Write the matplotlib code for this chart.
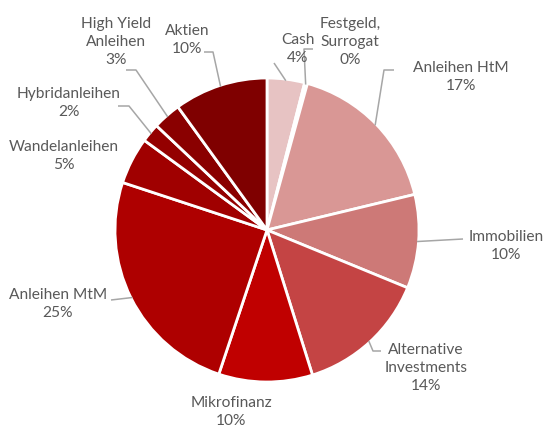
import numpy as np
import matplotlib
matplotlib.use("Agg")
import matplotlib.pyplot as plt

# ---- data ----
categories = ["Cash", "Festgeld,\nSurrogat", "Anleihen HtM", "Immobilien",
              "Alternative\nInvestments", "Mikrofinanz", "Anleihen MtM",
              "Wandelanleihen", "Hybridanleihen", "High Yield\nAnleihen", "Aktien"]
values = [4, 0.3, 17, 10, 14, 10, 25, 5, 2, 3, 10]
pct_labels = ["4%", "0%", "17%", "10%", "14%", "10%", "25%", "5%", "2%", "3%", "10%"]

colors = ["#E7C3C3", "#DFAEAE", "#D99795", "#CD7977", "#C44444", "#C00000",
          "#AE0000", "#A00000", "#940000", "#8A0000", "#7F0000"]

# ---- layout (pixel coords, y from top) ----
W, H = 544, 431
cx, cy, R = 267, 231, 152
label_xy = [(298, 49), (350, 42), (461, 77), (506, 246), (426, 368), (231, 412),
            (58, 304), (64, 156), (69, 103), (116, 42), (187, 40)]
# leader: elbow point and end point (None = no leader)
leaders = [
    [(274, 64)],
    [(304, 50), (313, 50)],
    [(384, 71), (394, 71)],
    [(463, 240)],
    [(373, 352), (381, 352)],
    None,
    [(111, 301)],
    None,
    [(129, 107), (118, 107)],
    [(136, 71), (126, 71)],
    [(213, 53), (204, 53)],
]

fig = plt.figure(figsize=(W / 100, H / 100), dpi=100)
ax = fig.add_axes([0, 0, 1, 1])

wedges, _ = ax.pie(values, colors=colors, startangle=90, counterclock=False,
                   center=(cx, H - cy), radius=R,
                   wedgeprops=dict(edgecolor="white", linewidth=2))
ax.set_xlim(0, W)
ax.set_ylim(0, H)
ax.set_aspect("equal")
ax.axis("off")

tc = "#595959"
for i, w in enumerate(wedges):
    mid = np.deg2rad((w.theta1 + w.theta2) / 2)
    lx, ly = label_xy[i]
    ax.text(lx, H - ly, categories[i] + "\n" + pct_labels[i], ha="center", va="center",
            fontsize=11.2, color=tc, family="Lato", linespacing=1.4)
    if leaders[i] is not None:
        sx = cx + R * 0.99 * np.cos(mid)
        sy = (H - cy) + R * 0.99 * np.sin(mid)
        xs = [sx] + [p[0] for p in leaders[i]]
        ys = [sy] + [H - p[1] for p in leaders[i]]
        ax.plot(xs, ys, color="#A6A6A6", lw=1.1, solid_capstyle="butt")

fig.savefig("out.png", dpi=100)
